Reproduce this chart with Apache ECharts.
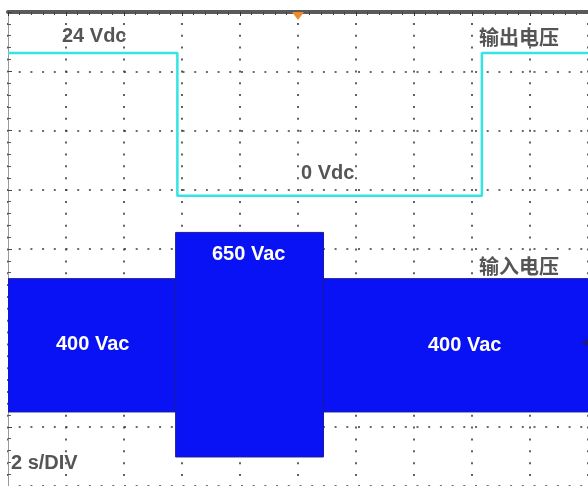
<!DOCTYPE html>
<html><head><meta charset="utf-8">
<script src="https://cdn.jsdelivr.net/npm/echarts@6/dist/echarts.min.js"></script>
<style>html,body{margin:0;padding:0;background:#fff}#c{width:588px;height:486px}</style>
</head><body><div id="c"></div>
<script>
// time in divisions (2 s/DIV), voltage in divisions
const outTime = [0, 2.92, 8.17, 10];
const outLevel = [3.31, 0.90, 3.31, 3.31];          // 输出电压 trace (24 Vdc -> 0 Vdc -> 24 Vdc)
const inStart = [0, 2.89, 5.44];                    // 输入电压 segment start
const inEnd = [2.89, 5.44, 10.2];                   // 输入电压 segment end
const inUpper = [-0.50, 0.28, -0.50];               // 输入电压 envelope top
const inLower = [-2.75, -3.51, -2.75];              // 输入电压 envelope bottom
const xTicks = [0,1,2,3,4,5,6,7,8,9,10];
const yTicks = [-4,-3,-2,-1,0,1,2,3,4];

const chart = echarts.init(document.getElementById('c'), null, {renderer:'canvas'});
const grey = '#555555';
const font = '"Liberation Sans", Arial, sans-serif';
const cjk = '"Noto Sans CJK SC", sans-serif';
function txt(x, y, s, color, f, size){
  return {type:'text', left:x, top:y, z:100, style:{text:s, fill:color, font:'bold '+size+'px '+f}};
}
chart.setOption({
  animation:false,
  backgroundColor:'#ffffff',
  grid:{left:8, top:12, width:585, height:475, containLabel:false},
  xAxis:{type:'value', min:xTicks[0], max:xTicks[xTicks.length-1], interval:1, position:'top',
    axisLine:{show:true, onZero:false, lineStyle:{color:'#5a5a5a', width:4}},
    axisTick:{show:true, inside:true, length:4, lineStyle:{color:'#333'}},
    minorTick:{show:true, splitNumber:5, length:3, lineStyle:{color:'#444'}},
    axisLabel:{show:false},
    splitLine:{show:true, lineStyle:{color:'#3a3a3a', width:1.6, type:[2, 9.875], dashOffset:1}}},
  yAxis:{type:'value', min:yTicks[0], max:yTicks[yTicks.length-1], interval:1,
    axisLine:{show:true, onZero:false, lineStyle:{color:'#9a9a9a', width:1}},
    axisTick:{show:true, inside:true, length:4, lineStyle:{color:'#444'}},
    minorTick:{show:true, splitNumber:5, length:3, lineStyle:{color:'#555'}},
    axisLabel:{show:false},
    splitLine:{show:true, lineStyle:{color:'#3a3a3a', width:1.6, type:[2, 9.7], dashOffset:1}}},
  series:[
    {type:'custom', name:'输入电压', silent:true, z:2, clip:true,
     data: inStart.map((t,i)=>[t, inEnd[i], inUpper[i], inLower[i]]),
     encode:{x:[0,1], y:[2,3]},
     renderItem:function(params, api){
       const p1 = api.coord([api.value(0), api.value(2)]);
       const p2 = api.coord([api.value(1), api.value(3)]);
       return {type:'rect', shape:{x:p1[0], y:p1[1], width:p2[0]-p1[0], height:p2[1]-p1[1]},
               style:{fill:'#0812f4', stroke:'#1a1a9a', lineWidth:1}};
     },
     markPoint:{symbol:'triangle', symbolRotate:90, symbolSize:[14,14], silent:true,
       label:{show:false}, itemStyle:{color:'#1c1c80'},
       data:[{coord:[10, -1.58]}]}},
    {type:'line', name:'输出电压', step:'end', symbol:'none', silent:true,
     data: outTime.map((t,i)=>[t, outLevel[i]]),
     lineStyle:{color:'#35e3e3', width:2.5}, z:3,
     markPoint:{symbol:'triangle', symbolRotate:180, symbolSize:[12,8], symbolOffset:[0,4], silent:true,
       label:{show:false}, itemStyle:{color:'#ee8a2a'},
       data:[{coord:[5, 4]}]}}
  ],
  graphic:[
    txt(62, 26, '24 Vdc', grey, font, 20),
    txt(479, 27, '输出电压', grey, cjk, 20),
    txt(301, 163, '0 Vdc', grey, font, 20),
    txt(212, 244, '650 Vac', '#ffffff', font, 20),
    txt(479, 256, '输入电压', grey, cjk, 20),
    txt(56, 334, '400 Vac', '#ffffff', font, 20),
    txt(428, 335, '400 Vac', '#ffffff', font, 20),
    txt(11, 453, '2 s/DIV', grey, font, 20)
  ]
});
</script></body></html>
